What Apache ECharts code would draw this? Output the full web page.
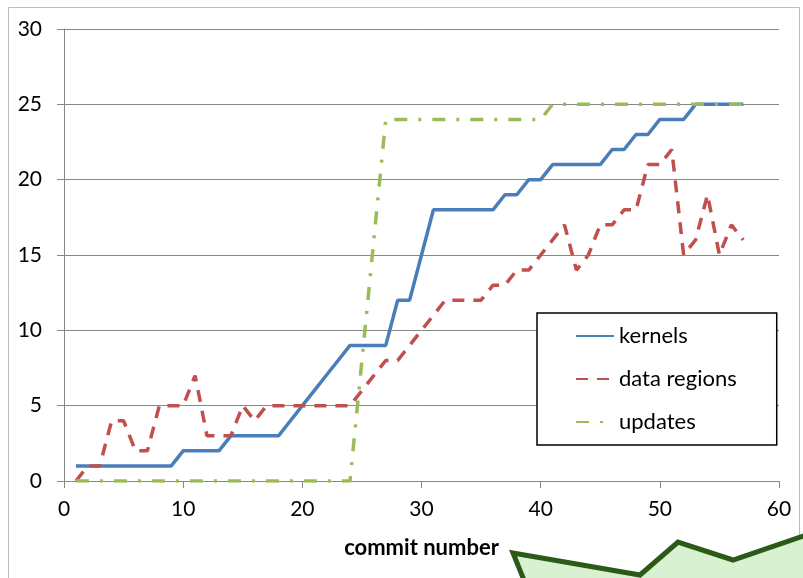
<!DOCTYPE html>
<html>
<head>
<meta charset="utf-8">
<script src="https://cdn.jsdelivr.net/npm/echarts@6/dist/echarts.min.js"></script>
<style>
html,body{margin:0;padding:0;background:#fff;}
#chart{width:803px;height:578px;}
</style>
</head>
<body>
<div id="chart"></div>
<script>
// ---- data ----
const commits = [1,2,3,4,5,6,7,8,9,10,11,12,13,14,15,16,17,18,19,20,21,22,23,24,25,26,27,28,29,30,31,32,33,34,35,36,37,38,39,40,41,42,43,44,45,46,47,48,49,50,51,52,53,54,55,56,57];
const kernels = [1,1,1,1,1,1,1,1,1,2,2,2,2,3,3,3,3,3,4,5,6,7,8,9,9,9,9,12,12,15,18,18,18,18,18,18,19,19,20,20,21,21,21,21,21,22,22,23,23,24,24,24,25,25,25,25,25];
const dataRegions = [0,1,1,4,4,2,2,5,5,5,7,3,3,3,5,4,5,5,5,5,5,5,5,5,6,7,8,8,9,10,11,12,12,12,12,13,13,14,14,15,16,17,14,15,17,17,18,18,21,21,22,15,16,19,15,17,16];
const updates = [0,0,0,0,0,0,0,0,0,0,0,0,0,0,0,0,0,0,0,0,0,0,0,0,8,16,24,24,24,24,24,24,24,24,24,24,24,24,24,24,25,25,25,25,25,25,25,25,25,25,25,25,25,25,25,25,25];
const seriesNames = ['kernels', 'data regions', 'updates'];
const xTicks = [0,10,20,30,40,50,60];
const yTicks = [0,5,10,15,20,25,30];
const xAxisTitle = 'commit number';

const pairs = vals => commits.map((c, i) => [c, vals[i]]);
const FONT = 'Lato, "Liberation Sans", sans-serif';

const chart = echarts.init(document.getElementById('chart'), null, {renderer: 'canvas'});
chart.setOption({
  animation: false,
  backgroundColor: '#ffffff',
  grid: {left: 64, right: 24, top: 29, bottom: 97, containLabel: false},
  xAxis: {
    type: 'value',
    min: xTicks[0], max: xTicks[xTicks.length - 1], interval: 10,
    name: xAxisTitle, nameLocation: 'middle', nameGap: 56,
    nameTextStyle: {fontFamily: FONT, fontSize: 22, fontWeight: 'bold', color: '#000'},
    axisLine: {show: true, lineStyle: {color: '#868686', width: 1}},
    axisTick: {show: true, length: 7, lineStyle: {color: '#868686'}},
    axisLabel: {fontFamily: FONT, fontSize: 21, color: '#000', margin: 18},
    splitLine: {show: false}
  },
  yAxis: {
    type: 'value',
    min: yTicks[0], max: yTicks[yTicks.length - 1], interval: 5,
    axisLine: {show: true, lineStyle: {color: '#868686', width: 1}},
    axisTick: {show: true, length: 7, lineStyle: {color: '#868686'}},
    axisLabel: {fontFamily: FONT, fontSize: 21, color: '#000', margin: 22},
    splitLine: {show: true, lineStyle: {color: '#868686', width: 1}}
  },
  legend: {
    data: seriesNames,
    orient: 'vertical',
    left: 537, top: 313,
    itemWidth: 38, itemHeight: 14, itemGap: 21,
    padding: [12, 40, 12, 38],
    borderColor: '#000', borderWidth: 1.5, borderRadius: 0,
    backgroundColor: '#fff',
    itemStyle: {opacity: 0},
    textStyle: {fontFamily: FONT, fontSize: 22, color: '#000', padding: [0, 0, 0, 0]}
  },
  graphic: [
    {type: 'rect', silent: true, z: -10,
     shape: {x: 8.5, y: 7.5, width: 791, height: 620},
     style: {fill: 'none', stroke: '#bdbdbd', lineWidth: 1}},
    {type: 'polygon', silent: true, z: 100,
     shape: {points: [[532, 600], [513, 553], [640, 575], [678, 542], [733, 560], [812, 533], [812, 600]]},
     style: {fill: '#d8f1d0', stroke: '#2b5a18', lineWidth: 5, lineJoin: 'miter'}}
  ],
  series: [
    {name: seriesNames[0], type: 'line', data: pairs(kernels), symbol: 'none',
     color: '#4a7ebb', lineStyle: {color: '#4a7ebb', width: 3.5}},
    {name: seriesNames[1], type: 'line', data: pairs(dataRegions), symbol: 'none',
     color: '#c0504d', lineStyle: {color: '#c0504d', width: 3.5, type: [12, 9]}},
    {name: seriesNames[2], type: 'line', data: pairs(updates), symbol: 'none',
     color: '#9bbb59', lineStyle: {color: '#9bbb59', width: 3.5, type: [13, 11, 3, 11]}}
  ]
});
</script>
</body>
</html>
